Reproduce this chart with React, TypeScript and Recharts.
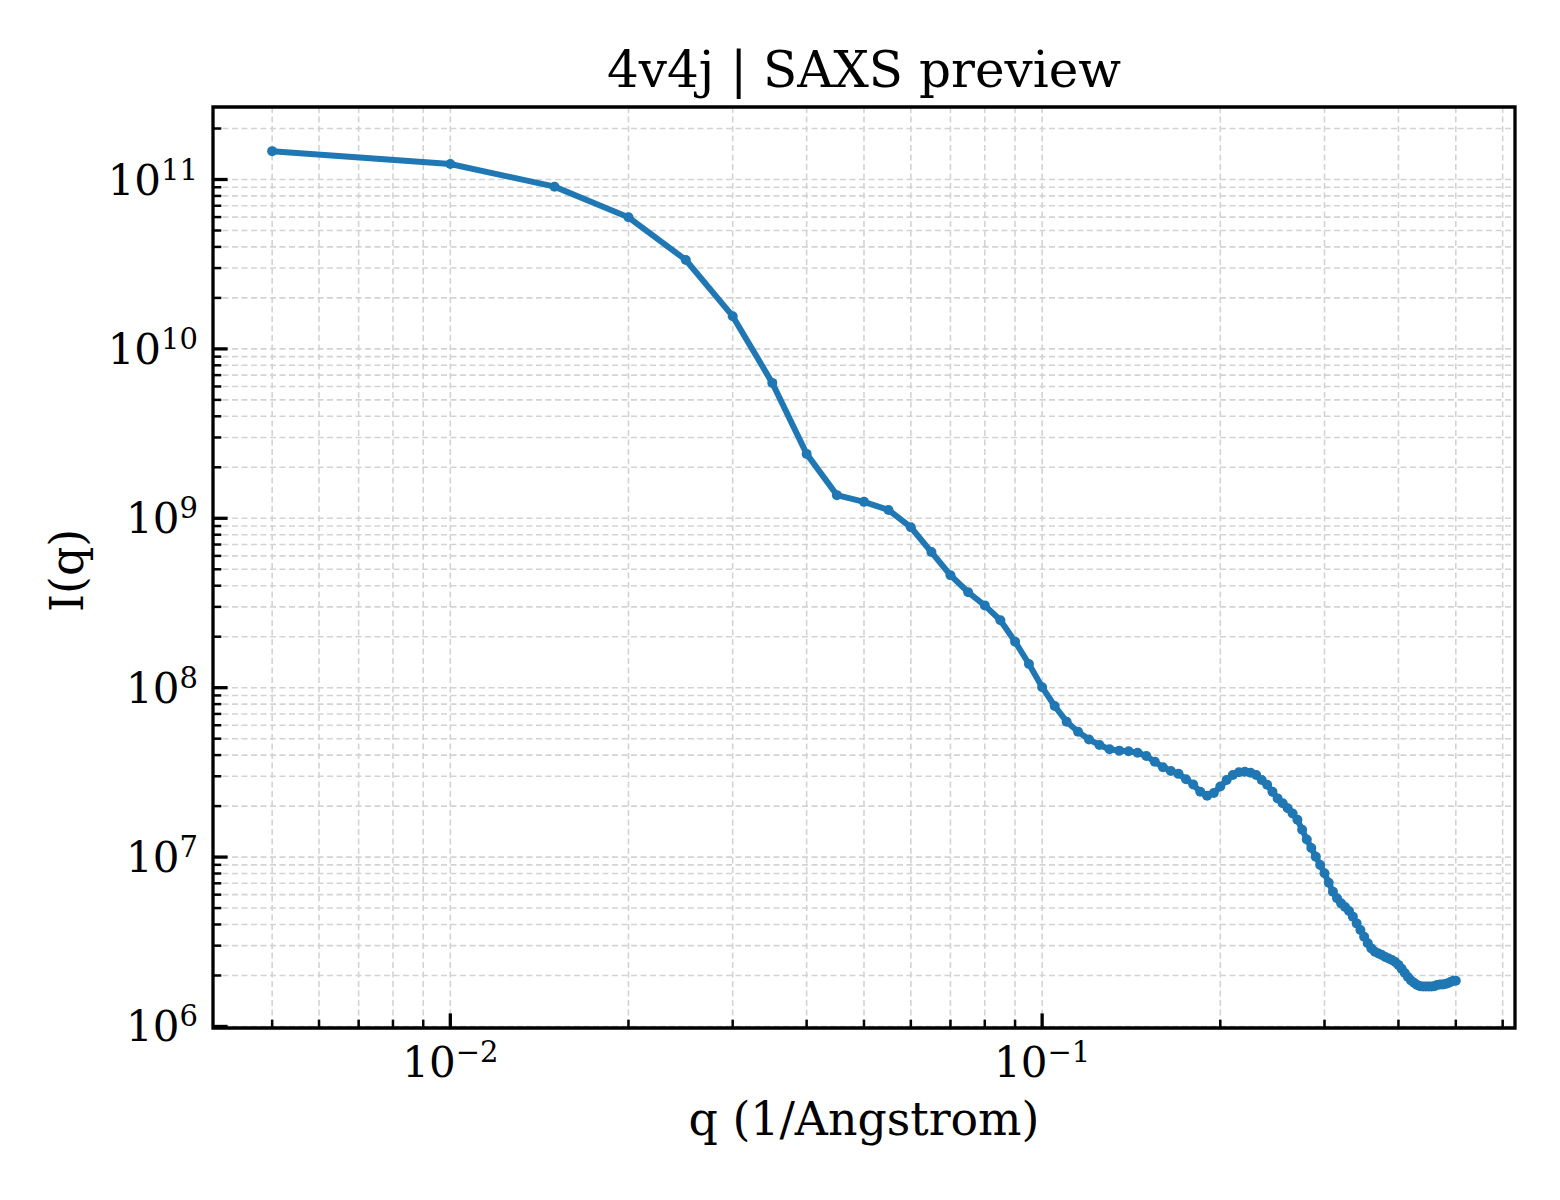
import React from "react";
import {
  LineChart,
  Line,
  XAxis,
  YAxis,
  CartesianGrid,
  ReferenceArea,
} from "recharts";

// q (1/Angstrom) sample positions
const qValues = [
  0.005, 0.01, 0.015, 0.02, 0.025, 0.03, 0.035, 0.04, 0.045, 0.05,
  0.055, 0.06, 0.065, 0.07, 0.075, 0.08, 0.085, 0.09, 0.095, 0.1,
  0.105, 0.11, 0.115, 0.12, 0.125, 0.13, 0.135, 0.14, 0.145, 0.15,
  0.155, 0.16, 0.165, 0.17, 0.175, 0.18, 0.185, 0.19, 0.195, 0.2,
  0.205, 0.21, 0.215, 0.22, 0.225, 0.23, 0.235, 0.24, 0.245, 0.25,
  0.255, 0.26, 0.265, 0.27, 0.275, 0.28, 0.285, 0.29, 0.295, 0.3,
  0.305, 0.31, 0.315, 0.32, 0.325, 0.33, 0.335, 0.34, 0.345, 0.35,
  0.355, 0.36, 0.365, 0.37, 0.375, 0.38, 0.385, 0.39, 0.395, 0.4,
  0.405, 0.41, 0.415, 0.42, 0.425, 0.43, 0.435, 0.44, 0.445, 0.45,
  0.455, 0.46, 0.465, 0.47, 0.475, 0.48, 0.485, 0.49, 0.495, 0.5,
];

// I(q)
const intensity = [
  1.47e11, 1.235e11, 9.07e10, 5.98e10, 3.35e10, 1.56e10, 6.3e9, 2.4e9, 1.37e9, 1.25e9,
  1.12e9, 8.85e8, 6.32e8, 4.61e8, 3.66e8, 3.06e8, 2.5e8, 1.87e8, 1.38e8, 1.006e8,
  7.8e7, 6.3e7, 5.5e7, 4.95e7, 4.59e7, 4.33e7, 4.25e7, 4.21e7, 4.13e7, 3.95e7,
  3.66e7, 3.39e7, 3.22e7, 3.1e7, 2.88e7, 2.68e7, 2.43e7, 2.3e7, 2.39e7, 2.61e7,
  2.85e7, 3.05e7, 3.17e7, 3.19e7, 3.15e7, 3.05e7, 2.85e7, 2.67e7, 2.43e7, 2.22e7,
  2.08e7, 1.94e7, 1.81e7, 1.66e7, 1.45e7, 1.27e7, 1.13e7, 1.006e7, 8.98e6, 8.02e6,
  7.06e6, 6.25e6, 5.71e6, 5.33e6, 5.07e6, 4.81e6, 4.45e6, 4.06e6, 3.71e6, 3.39e6,
  3.1e6, 2.89e6, 2.76e6, 2.7e6, 2.64e6, 2.57e6, 2.52e6, 2.47e6, 2.4e6, 2.31e6,
  2.19e6, 2.07e6, 1.96e6, 1.87e6, 1.81e6, 1.76e6, 1.73e6, 1.72e6, 1.72e6, 1.72e6,
  1.72e6, 1.73e6, 1.76e6, 1.77e6, 1.77e6, 1.78e6, 1.8e6, 1.83e6, 1.86e6, 1.86e6,
];

const xTicks = [
  0.005, 0.006, 0.007, 0.008, 0.009,
  0.01, 0.02, 0.03, 0.04, 0.05, 0.06, 0.07, 0.08, 0.09,
  0.1, 0.2, 0.3, 0.4, 0.5, 0.6,
];

const yTicks = [
  1e6, 2e6, 3e6, 4e6, 5e6, 6e6, 7e6, 8e6, 9e6,
  1e7, 2e7, 3e7, 4e7, 5e7, 6e7, 7e7, 8e7, 9e7,
  1e8, 2e8, 3e8, 4e8, 5e8, 6e8, 7e8, 8e8, 9e8,
  1e9, 2e9, 3e9, 4e9, 5e9, 6e9, 7e9, 8e9, 9e9,
  1e10, 2e10, 3e10, 4e10, 5e10, 6e10, 7e10, 8e10, 9e10,
  1e11, 2e11,
];

const xDomain = [0.003972, 0.6295];
const yDomain = [Math.pow(10, 5.991), Math.pow(10, 11.428)];

const data = qValues.map((q, i) => ({ q, I: intensity[i] }));

const FONT = "DejaVu Serif";
const BLUE = "#1f77b4";

function decade(v: number) {
  const e = Math.round(Math.log10(v));
  const major = Math.abs(Math.log10(v) - e) < 1e-6;
  return { e, major };
}

function expLabel(e: number) {
  return e < 0 ? "\u2212" + Math.abs(e) : String(e);
}

function XTick(props: any) {
  const { x, y, payload } = props;
  const { e, major } = decade(payload.value);
  return (
    <g>
      <line
        x1={x}
        x2={x}
        y1={y}
        y2={y - (major ? 14.6 : 8.3)}
        stroke="#000"
        strokeWidth={major ? 3.3 : 2.5}
      />
      {major && (
        <text x={x} y={y + 49} textAnchor="middle" fontFamily={FONT} fontSize={42} fill="#000">
          10
          <tspan dy={-15} fontSize={29}>
            {expLabel(e)}
          </tspan>
        </text>
      )}
    </g>
  );
}

function YTick(props: any) {
  const { x, y, payload } = props;
  const { e, major } = decade(payload.value);
  return (
    <g>
      <line
        x1={x}
        x2={x + (major ? 14.6 : 8.3)}
        y1={y}
        y2={y}
        stroke="#000"
        strokeWidth={major ? 3.3 : 2.5}
      />
      {major && (
        <text x={x - 15} y={y + 15} textAnchor="end" fontFamily={FONT} fontSize={42} fill="#000">
          10
          <tspan dy={-15} fontSize={29}>
            {expLabel(e)}
          </tspan>
        </text>
      )}
    </g>
  );
}

function XLabel(props: any) {
  const { x, y, width } = props.viewBox;
  return (
    <text x={x + width / 2} y={y + 107} textAnchor="middle" fontFamily={FONT} fontSize={45.8} fill="#000">
      q (1/Angstrom)
    </text>
  );
}

function YLabel(props: any) {
  const { y, height } = props.viewBox;
  const cx = 83;
  const cy = y + height / 2 + 3;
  return (
    <text
      x={cx}
      y={cy}
      transform={`rotate(-90, ${cx}, ${cy})`}
      textAnchor="middle"
      fontFamily={FONT}
      fontSize={45.8}
      fill="#000"
    >
      I(q)
    </text>
  );
}

export default function App() {
  return (
    <div style={{ position: "absolute", left: 0, top: 0, width: 1560, height: 1200, background: "#fff" }}>
      <LineChart
        width={1560}
        height={1200}
        data={data}
        margin={{ top: 107, right: 45, bottom: 0, left: 0 }}
      >
        <CartesianGrid stroke="#d3d3d3" strokeWidth={1.6} strokeDasharray="6 3.5" />
        <XAxis
          dataKey="q"
          type="number"
          scale="log"
          domain={xDomain}
          allowDataOverflow
          ticks={xTicks}
          interval={0}
          height={172}
          tickSize={0}
          tickMargin={0}
          axisLine={false}
          tickLine={false}
          tick={XTick}
          label={XLabel}
        />
        <YAxis
          type="number"
          scale="log"
          domain={yDomain}
          allowDataOverflow
          ticks={yTicks}
          interval={0}
          width={213}
          tickSize={0}
          tickMargin={0}
          axisLine={false}
          tickLine={false}
          tick={YTick}
          label={YLabel}
        />
        <Line
          type="linear"
          dataKey="I"
          stroke={BLUE}
          strokeWidth={6}
          dot={{ r: 5, fill: BLUE, stroke: BLUE, strokeWidth: 0 }}
          activeDot={false}
          isAnimationActive={false}
        />
        <ReferenceArea
          x1={xDomain[0]}
          x2={xDomain[1]}
          y1={yDomain[0]}
          y2={yDomain[1]}
          fill="none"
          stroke="#000"
          strokeWidth={3.3}
          ifOverflow="visible"
        />
      </LineChart>
      <svg
        width={1560}
        height={1200}
        style={{ position: "absolute", left: 0, top: 0, pointerEvents: "none" }}
      >
        <text x={864} y={87} textAnchor="middle" fontFamily={FONT} fontSize={50} fill="#000">
          4v4j | SAXS preview
        </text>
      </svg>
    </div>
  );
}
